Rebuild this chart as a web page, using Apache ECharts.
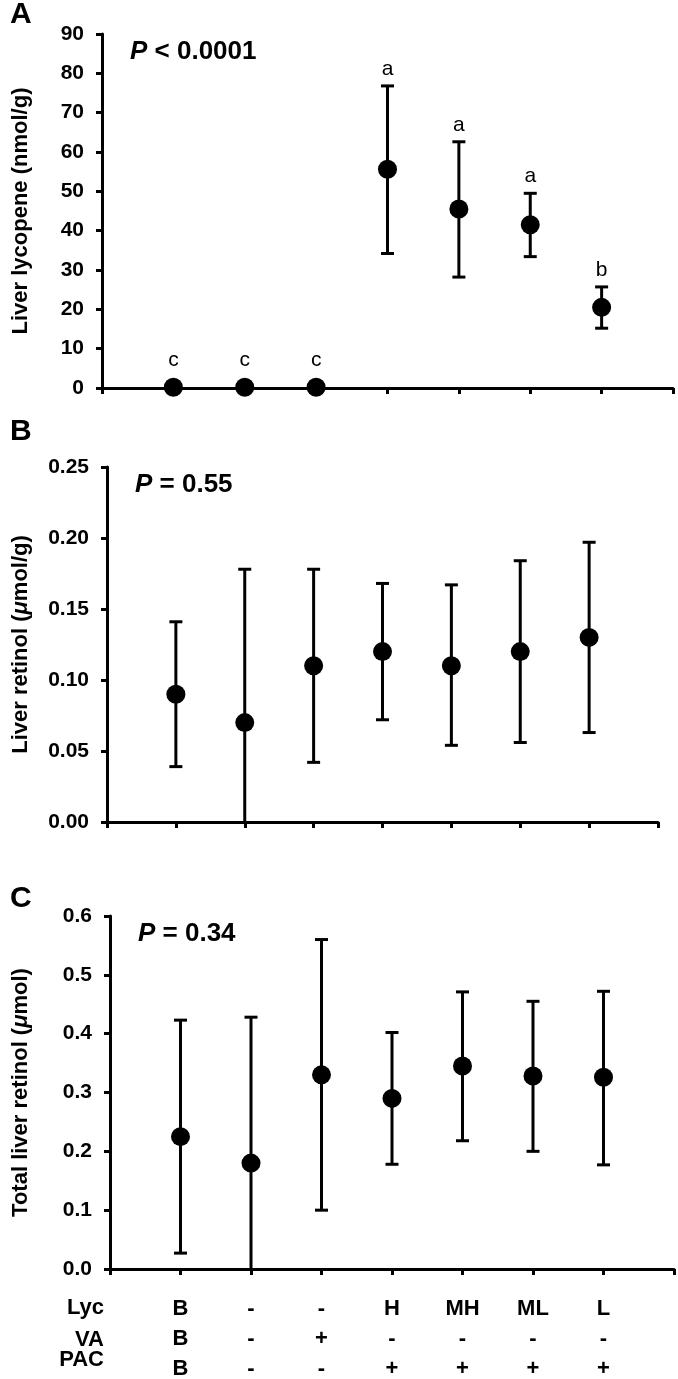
<!DOCTYPE html>
<html><head><meta charset="utf-8">
<script src="https://cdn.jsdelivr.net/npm/echarts@6/dist/echarts.min.js"></script>
<style>html,body{margin:0;padding:0;background:#fff}#c{width:678px;height:1379px}</style>
</head><body><div id="c"></div>
<script>
// ---------- data ----------
const xPos = [1, 2, 3, 4, 5, 6, 7];
const lyc = ['B', '-', '-', 'H', 'MH', 'ML', 'L'];
const va  = ['B', '-', '+', '-', '-', '-', '-'];
const pac = ['B', '-', '-', '+', '+', '+', '+'];
const rowHeaders = ['Lyc', 'VA', 'PAC'];

// Panel A: liver lycopene (nmol/g)
const lycMean = [0.2, 0.2, 0.2, 55.6, 45.5, 41.5, 20.5];
const lycLow  = [0.0, 0.0, 0.0, 34.2, 28.2, 33.4, 15.2];
const lycHigh = [0.4, 0.4, 0.4, 76.8, 62.6, 49.5, 25.7];
const lycLetters = ['c', 'c', 'c', 'a', 'a', 'a', 'b'];

// Panel B: liver retinol (umol/g)
const retMean = [0.090, 0.070, 0.110, 0.120, 0.110, 0.120, 0.130];
const retLow  = [0.039, -0.038, 0.042, 0.072, 0.054, 0.056, 0.063];
const retHigh = [0.141, 0.178, 0.178, 0.168, 0.167, 0.184, 0.197];

// Panel C: total liver retinol (umol)
const totMean = [0.225, 0.180, 0.330, 0.290, 0.345, 0.328, 0.326];
const totLow  = [0.027, -0.068, 0.100, 0.178, 0.218, 0.200, 0.177];
const totHigh = [0.423, 0.428, 0.560, 0.402, 0.471, 0.455, 0.472];

const panelLetters = ['A', 'B', 'C'];
const pSign = ['<', '=', '='];
const pValue = ['0.0001', '0.55', '0.34'];
const yNames = ['Liver lycopene (nmol/g)', 'Liver retinol ({i|\u03bc}mol/g)', 'Total liver retinol ({i|\u03bc}mol)'];
const yMin = [0, 0, 0];
const yMax = [90, 0.25, 0.6];
const yStep = [10, 0.05, 0.1];
const yDecimals = [0, 2, 1];

// ---------- layout ----------
const FONT = '"Liberation Sans", Arial, Helvetica, sans-serif';
const grids = [
  { left: 102, top: 34, width: 571, height: 354 },
  { left: 107, top: 467, width: 551, height: 355 },
  { left: 110, top: 916, width: 564, height: 353 }
];
const nameGaps = [70, 75, 78];
const letterPos = [15, 432, 899];

const lineStyle = { color: '#000', width: 3 };

function errRender(minVal) {
  return function (params, api) {
    const x = api.value(0), lo = api.value(2), hi = api.value(3);
    const clipped = lo < minVal;
    const pHi = api.coord([x, hi]);
    const pLo = api.coord([x, clipped ? minVal : lo]);
    const hw = 6.5;
    const st = { stroke: '#000', lineWidth: 3 };
    const children = [
      { type: 'line', shape: { x1: pHi[0], y1: pHi[1], x2: pLo[0], y2: pLo[1] }, style: st },
      { type: 'line', shape: { x1: pHi[0] - hw, y1: pHi[1], x2: pHi[0] + hw, y2: pHi[1] }, style: st }
    ];
    if (!clipped) {
      children.push({ type: 'line', shape: { x1: pLo[0] - hw, y1: pLo[1], x2: pLo[0] + hw, y2: pLo[1] }, style: st });
    }
    return { type: 'group', children };
  };
}

function letterRender(params, api) {
  const x = api.value(0), m = api.value(1), hi = api.value(3);
  const pHi = api.coord([x, hi]), pM = api.coord([x, m]);
  const y = Math.min(pHi[1], pM[1] - 10) - 17;
  return {
    type: 'text',
    style: { text: lycLetters[params.dataIndex], x: pHi[0], y: y, align: 'center', verticalAlign: 'middle',
      font: '21px ' + FONT, fill: '#000' }
  };
}

const means = [lycMean, retMean, totMean];
const lows = [lycLow, retLow, totLow];
const highs = [lycHigh, retHigh, totHigh];

const xAxes = grids.map((g, i) => ({
  type: 'value', gridIndex: i, min: 0, max: 8, interval: 1,
  axisLine: { show: true, lineStyle },
  axisTick: { show: true, length: 6, lineStyle },
  splitLine: { show: false },
  axisLabel: i < 2 ? { show: false } : {
    show: true, margin: 25, color: '#000', fontSize: 22, fontWeight: 'bold', fontFamily: FONT, lineHeight: 30,
    formatter: function (v) {
      const k = xPos.indexOf(v);
      if (k < 0) return '';
      return lyc[k] + '\n' + va[k] + '\n' + pac[k];
    }
  }
}));

const yAxes = grids.map((g, i) => ({
  type: 'value', gridIndex: i, min: yMin[i], max: yMax[i], interval: yStep[i],
  axisLine: { show: true, lineStyle },
  axisTick: { show: true, length: 6, lineStyle },
  splitLine: { show: false },
  axisLabel: { margin: 18, color: '#000', fontSize: 21, fontWeight: 'bold', fontFamily: FONT,
    formatter: v => Number(v).toFixed(yDecimals[i]) },
  name: yNames[i], nameLocation: 'middle', nameGap: nameGaps[i],
  nameTextStyle: { color: '#000', fontSize: 22, fontWeight: 'bold', fontFamily: FONT,
    rich: { i: { fontStyle: 'italic', fontWeight: 'bold', fontSize: 22, fontFamily: FONT, color: '#000' } } }
}));

const series = [];
grids.forEach((g, i) => {
  const data = xPos.map((x, k) => [x, means[i][k], lows[i][k], highs[i][k]]);
  series.push({ type: 'custom', xAxisIndex: i, yAxisIndex: i, renderItem: errRender(yMin[i]), data, z: 2, silent: true });
  series.push({ type: 'scatter', xAxisIndex: i, yAxisIndex: i, symbol: 'circle', symbolSize: 19,
    itemStyle: { color: '#000', opacity: 1 }, data: xPos.map((x, k) => [x, means[i][k]]), z: 3, silent: true });
});
series.push({ type: 'custom', xAxisIndex: 0, yAxisIndex: 0, renderItem: letterRender,
  data: xPos.map((x, k) => [x, lycMean[k], lycLow[k], lycHigh[k]]), z: 4, silent: true });

const graphic = [];
grids.forEach((g, i) => {
  graphic.push({ type: 'text', x: 10, y: letterPos[i],
    style: { text: panelLetters[i], fill: '#000', font: 'bold 30px ' + FONT, verticalAlign: 'middle' } });
  graphic.push({ type: 'text', x: g.left + 28, y: g.top + 18,
    style: { text: '{i|P}{n| ' + pSign[i] + ' ' + pValue[i] + '}', verticalAlign: 'middle', fill: '#000',
      rich: { i: { fontStyle: 'italic', fontWeight: 'bold', fontSize: 26, fontFamily: FONT, fill: '#000' },
              n: { fontWeight: 'bold', fontSize: 26, fontFamily: FONT, fill: '#000' } } } });
});
const gC = grids[2];
const headerOffsets = [39, 71, 91];
rowHeaders.forEach((h, k) => {
  graphic.push({ type: 'text', x: gC.left - 6, y: gC.top + gC.height + headerOffsets[k],
    style: { text: h, align: 'right', verticalAlign: 'middle', fill: '#000', font: 'bold 22px ' + FONT } });
});

const chart = echarts.init(document.getElementById('c'), null, { renderer: 'canvas' });
chart.setOption({
  animation: false,
  backgroundColor: '#fff',
  grid: grids.map(g => Object.assign({ containLabel: false, outerBoundsMode: 'none' }, g)),
  xAxis: xAxes,
  yAxis: yAxes,
  series,
  graphic
});
</script></body></html>
